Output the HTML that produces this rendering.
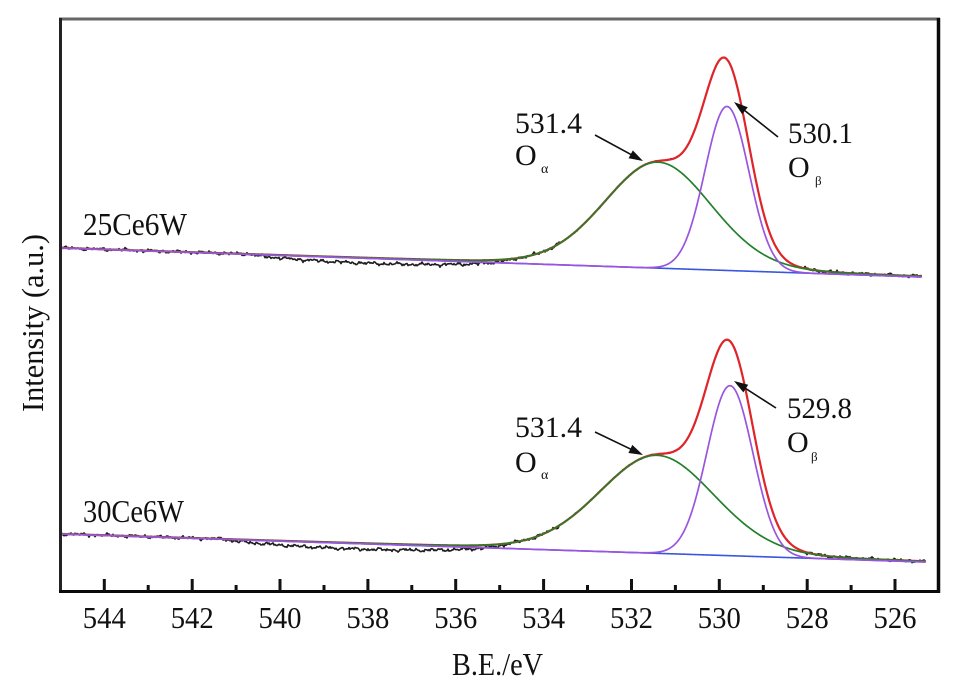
<!DOCTYPE html>
<html><head><meta charset="utf-8"><style>
html,body{margin:0;padding:0;background:#fff;}
svg{display:block;}
text{font-family:"Liberation Serif","DejaVu Serif",serif;fill:#111;}
</style></head><body>
<svg id="s" width="953" height="700" viewBox="0 0 953 700" xmlns="http://www.w3.org/2000/svg">
<rect width="953" height="700" fill="#fff"/>
<g id="curves"></g>
<g id="arrows" fill="#111" stroke="#111"></g>

<!-- frame -->
<line x1="59" y1="19" x2="940" y2="19" stroke="#666" stroke-width="3"/>
<line x1="60.5" y1="18" x2="60.5" y2="593" stroke="#222" stroke-width="3"/>
<line x1="938.5" y1="18" x2="938.5" y2="593" stroke="#0a0a0a" stroke-width="3.5"/>
<line x1="59" y1="591.5" x2="940" y2="591.5" stroke="#0a0a0a" stroke-width="3"/>

<!-- ticks -->
<path d="M104.3 591V579 M192.2 591V579 M280 591V579 M367.9 591V579 M455.7 591V579 M543.6 591V579 M631.5 591V579 M719.3 591V579 M807.2 591V579 M895 591V579" stroke="#111" stroke-width="3" fill="none"/>
<path d="M148.2 591V585 M236.1 591V585 M324 591V585 M411.8 591V585 M499.7 591V585 M587.5 591V585 M675.4 591V585 M763.3 591V585 M851.1 591V585" stroke="#111" stroke-width="3" fill="none"/>

<!-- tick labels -->
<g font-size="31" text-anchor="middle">
<text x="104.3" y="628" textLength="43" lengthAdjust="spacingAndGlyphs">544</text>
<text x="192.2" y="628" textLength="43" lengthAdjust="spacingAndGlyphs">542</text>
<text x="280" y="628" textLength="43" lengthAdjust="spacingAndGlyphs">540</text>
<text x="367.9" y="628" textLength="43" lengthAdjust="spacingAndGlyphs">538</text>
<text x="455.7" y="628" textLength="43" lengthAdjust="spacingAndGlyphs">536</text>
<text x="543.6" y="628" textLength="43" lengthAdjust="spacingAndGlyphs">534</text>
<text x="631.5" y="628" textLength="43" lengthAdjust="spacingAndGlyphs">532</text>
<text x="719.3" y="628" textLength="43" lengthAdjust="spacingAndGlyphs">530</text>
<text x="807.2" y="628" textLength="43" lengthAdjust="spacingAndGlyphs">528</text>
<text x="895" y="628" textLength="43" lengthAdjust="spacingAndGlyphs">526</text>
</g>

<!-- axis labels -->
<text x="452" y="675" font-size="32" textLength="91" lengthAdjust="spacingAndGlyphs">B.E./eV</text>
<text transform="translate(43,412) rotate(-90)" x="0" y="0" font-size="31" textLength="178" lengthAdjust="spacingAndGlyphs">Intensity (a.u.)</text>

<!-- sample labels -->
<text x="83" y="235" font-size="32" textLength="104" lengthAdjust="spacingAndGlyphs">25Ce6W</text>
<text x="83" y="522" font-size="32" textLength="101" lengthAdjust="spacingAndGlyphs">30Ce6W</text>

<!-- annotations top -->
<text x="515" y="133" font-size="30" textLength="67" lengthAdjust="spacingAndGlyphs">531.4</text>
<text x="515" y="165" font-size="30">O</text>
<text x="541" y="173" font-size="14">α</text>
<text x="788" y="143" font-size="30" textLength="65" lengthAdjust="spacingAndGlyphs">530.1</text>
<text x="788" y="177" font-size="30">O</text>
<text x="815" y="185" font-size="13">β</text>

<!-- annotations bottom -->
<text x="515" y="437" font-size="30" textLength="67" lengthAdjust="spacingAndGlyphs">531.4</text>
<text x="515" y="472" font-size="30">O</text>
<text x="541" y="479" font-size="14">α</text>
<text x="787" y="418" font-size="30" textLength="65" lengthAdjust="spacingAndGlyphs">529.8</text>
<text x="787" y="452" font-size="30">O</text>
<text x="811" y="461" font-size="13">β</text>
</svg>
<script>
(function(){
const NS="http://www.w3.org/2000/svg";
const G=document.getElementById('curves');
const A=document.getElementById('arrows');
function path(d,col,w){const p=document.createElementNS(NS,'path');p.setAttribute('d',d);p.setAttribute('fill','none');p.setAttribute('stroke',col);p.setAttribute('stroke-width',w);p.setAttribute('stroke-linejoin','round');p.setAttribute('stroke-linecap','round');G.appendChild(p);}
function gs(x,c,s){return Math.exp(-(x-c)*(x-c)/(2*s*s));}
function pv(x,c,s,e){const w=1.1774*s;const t=(x-c)/w;const l=1/(1+t*t);return (1-e)*gs(x,c,s)+e*l;}
function nz(x,k){return 0.6*Math.sin(x*0.83+k)+0.5*Math.sin(x*1.97+k*2.1)+0.45*Math.sin(x*3.3+k*0.7)+0.6*Math.sin(x*0.23+k*1.3)+0.5*Math.sin(x*0.51+k*3.1)+0.35*Math.sin(x*5.1+k*1.7);}
function dip(x,a,b,amp){if(x<=a||x>=b)return 0;const t=(x-a)/(b-a);return amp*Math.pow(Math.sin(Math.PI*t),0.6);}
function panel(P){
  const base=x=>P.b0+(x-60)*(P.b1-P.b0)/(P.xb-60);
  const gr=x=>P.gh*pv(x,P.gc,P.gs,0.12);
  const pu=x=>P.ph*gs(x,P.pc,P.ps);
  let dd='',db='',dg='',dr='',dp='';
  for(let x=61;x<=P.xb;x+=1){
    const b=base(x),g=gr(x),p=pu(x);
    const c=(x===61)?'M':'L';
    const amp=(x>560&&x<800)?0.3:1.0;
    const yd=b-g-p+dip(x,P.da,P.db,P.damp)+amp*nz(x,P.seed);
    dd+=c+x+' '+yd.toFixed(2);
    db+=c+x+' '+b.toFixed(2);
    dg+=c+x+' '+(b-g).toFixed(2);
    dr+=c+x+' '+(b-g-p).toFixed(2);
    dp+=c+x+' '+(b-p).toFixed(2);
  }
  path(dd,'#1e1e1e',1.6);
  path(db,'#3a55e0',1.6);
  path(dr,'#e0252a',2.2);
  path(dg,'#23802a',1.7);
  path(dp,'#9a55de',1.7);
}
panel({b0:248,b1:277,xb:921,gh:106,gc:658,gs:54,ph:164,pc:727,ps:22,da:250,db:515,damp:5.5,seed:1});
panel({b0:534,b1:562,xb:925,gh:98,gc:657,gs:58,ph:170,pc:730,ps:23,da:225,db:510,damp:6,seed:4});
function arrow(x1,y1,x2,y2){
  const dx=x2-x1,dy=y2-y1,L=Math.hypot(dx,dy),ux=dx/L,uy=dy/L,nx=-uy,ny=ux;
  const hl=14,hw=4.5;
  const l=document.createElementNS(NS,'line');
  l.setAttribute('x1',x1);l.setAttribute('y1',y1);
  l.setAttribute('x2',(x2-ux*hl*0.8).toFixed(2));l.setAttribute('y2',(y2-uy*hl*0.8).toFixed(2));
  l.setAttribute('stroke-width','1.6');A.appendChild(l);
  const bx=x2-ux*hl,by=y2-uy*hl;
  const pg=document.createElementNS(NS,'polygon');
  pg.setAttribute('points',x2+','+y2+' '+(bx+nx*hw).toFixed(2)+','+(by+ny*hw).toFixed(2)+' '+(bx-nx*hw).toFixed(2)+','+(by-ny*hw).toFixed(2));
  pg.setAttribute('stroke','none');A.appendChild(pg);
}
arrow(595,135,643,161);
arrow(778,137,734,102);
arrow(595,432,643,455);
arrow(776,408,734,381);
})();
</script>
</body></html>
